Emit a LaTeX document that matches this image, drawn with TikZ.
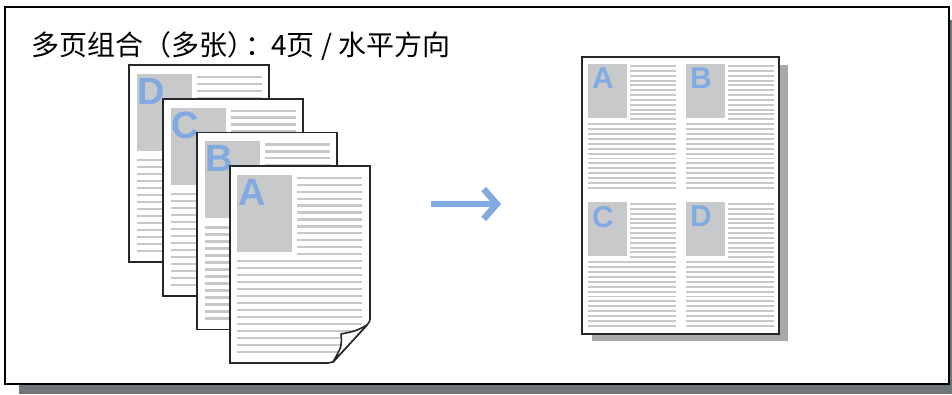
\documentclass[tikz,border=0pt]{standalone}
\usepackage{fontspec}
\setmainfont{Liberation Sans}
\newfontfamily\cjk{Noto Sans CJK SC}
\usetikzlibrary{arrows.meta}

\definecolor{boxgray}{RGB}{200,201,203}
\definecolor{linegray}{RGB}{200,200,202}
\definecolor{letterblue}{RGB}{128,170,224}
\definecolor{shadowgray}{RGB}{111,118,121}
\definecolor{pageshadow}{RGB}{168,169,171}

\tikzset{
  frame/.style={draw=black, line width=1.5pt, fill=white},
  sheet/.style={draw=black!85, line width=1.6pt, fill=white},
  txtline/.style={draw=linegray},
  letter/.style={text=letterblue, inner sep=0pt, anchor=north west},
  title/.style={font=\cjk\fontsize{28}{28}\selectfont, inner sep=0pt, anchor=base west},
  flow/.style={draw=letterblue, line width=6.5pt, -{Straight Barb[length=13pt, width=30pt]}}
}

% Contenido de una hoja: letra, tamano, grosor, posicion de la letra
\newcommand{\hojatexto}[4]{%
  \fill[boxgray] (0,0) rectangle (55,77);
  \foreach \k in {0,...,11}
    \draw[txtline, line width=#3] (60,3+6.9*\k) -- (125,3+6.9*\k);
  \foreach \k in {0,...,13}
    \draw[txtline, line width=#3] (0,86+7*\k) -- (125,86+7*\k);
  \node[letter, font=\fontsize{#2}{#2}\selectfont\bfseries] at (#4) {#1};
}

\begin{document}
\begin{tikzpicture}[x=1pt, y=-1pt]
\useasboundingbox (0,0) rectangle (952,394);

% Marco con sombra
\fill[shadowgray] (19,20) rectangle (952,394);
\draw[frame] (5,7) rectangle (949,384);
\node[title] (titulo) at (31,55) {多页组合（多张）\kern-10pt：\kern-2pt 4页 / 水平方向};

% Hojas de atras: D, C, B
\foreach \L [count=\i from 0] in {D,C,B} {
  \begin{scope}[shift={(136.5+34*\i,74+33.7*\i)}]
    \draw[sheet] (-7.5,-9) rectangle ++(140,197);
    \hojatexto{\L}{38}{2.4pt}{1,4}
  \end{scope}
}

% Hoja A con la esquina doblada
\def\contornoA{(0,0) -- (140,0) -- (140,151) .. controls (140,155) .. (137,159)
  -- (103,196) .. controls (101,197) .. (98,197) -- (0,197) -- cycle}
\begin{scope}[shift={(230,166)}]
  \fill[white] \contornoA;
  \begin{scope}
    \clip \contornoA;
    \begin{scope}[shift={(7,9)}]
      \hojatexto{A}{38}{2.4pt}{1,4}
    \end{scope}
  \end{scope}
  \draw[sheet, fill=none] \contornoA;
  \draw[sheet, line join=round] (137,159) .. controls (126,165) .. (111,168)
    .. controls (112,180) .. (103,196) -- cycle;
\end{scope}

% Flecha
\coordinate (ini) at (431,204);
\coordinate (fin) at (501,204);
\draw[flow] (ini) -- (fin);

% Hoja resultado: 4 paginas en horizontal
\fill[pageshadow] (592,65) rectangle (788,341);
\draw[sheet] (582,57) rectangle (779,334);
\foreach \L/\x/\y in {A/588/64, B/686/64, C/588/202, D/686/202} {
  \begin{scope}[shift={(\x,\y)}, scale=0.7]
    \hojatexto{\L}{30}{1.9pt}{5.7,5.7}
  \end{scope}
}
\end{tikzpicture}
\end{document}
